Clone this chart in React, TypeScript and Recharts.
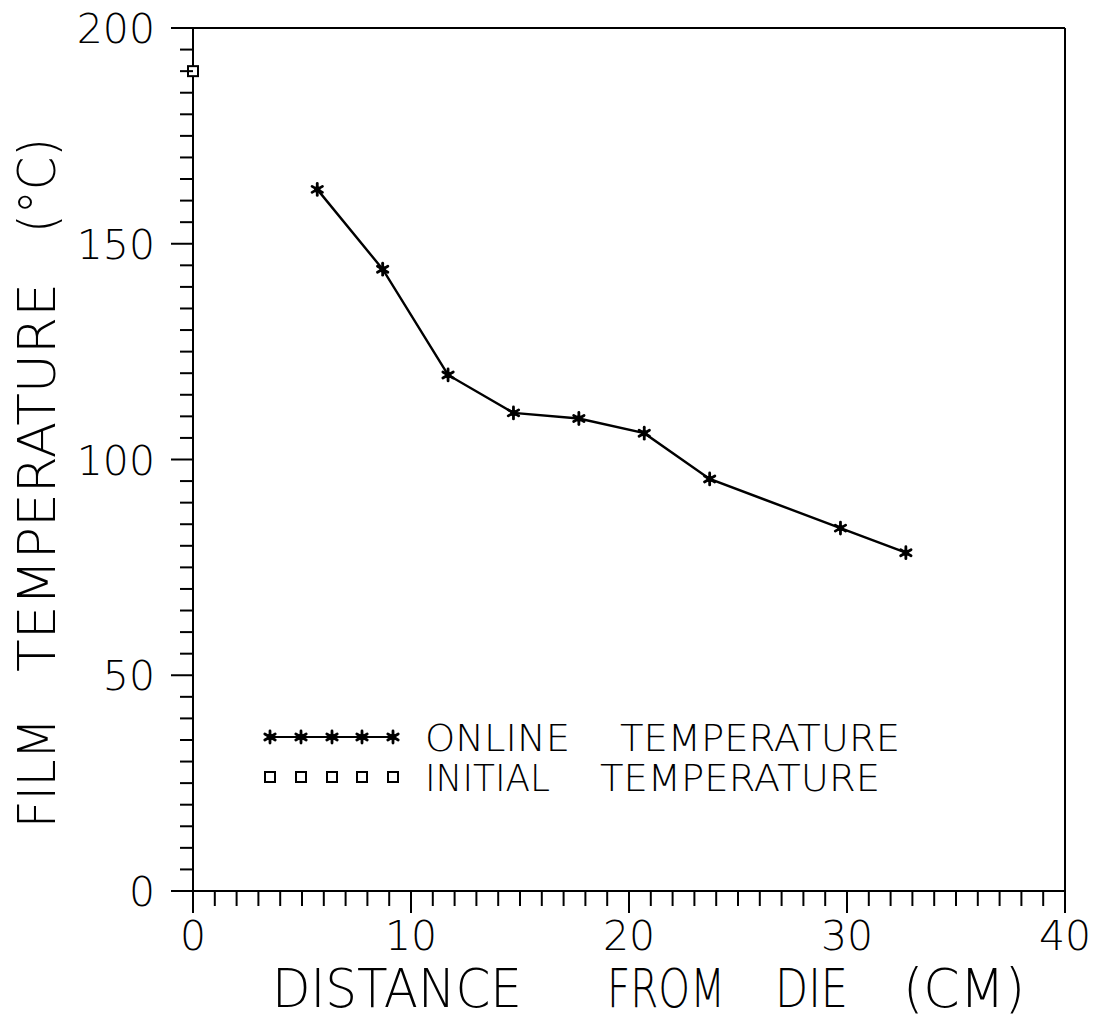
import React from 'react';
import { LineChart, Line, XAxis, YAxis, ReferenceLine, Legend } from 'recharts';

// Measured film temperature along the line, plus the melt temperature at the die exit
const distanceCm = [5.7, 8.7, 11.7, 14.7, 17.7, 20.7, 23.7, 29.7, 32.7];
const onlineTempC = [162.6, 144.1, 119.6, 110.8, 109.5, 106.1, 95.5, 84.1, 78.4];
const initialDistanceCm = [0];
const initialTempC = [190];

// Axis ranges, labelled ticks and minor tick steps
const xDomain: [number, number] = [0, 40];
const yDomain: [number, number] = [0, 200];
const xTickLabels = [0, 10, 20, 30, 40];
const yTickLabels = [0, 50, 100, 150, 200];
const xMinorStep = 1;
const yMinorStep = 5;

const xTicks: number[] = [];
for (let v = xDomain[0]; v <= xDomain[1]; v += xMinorStep) xTicks.push(v);
const yTicks: number[] = [];
for (let v = yDomain[0]; v <= yDomain[1]; v += yMinorStep) yTicks.push(v);

const onlineData = distanceCm.map((x, i) => ({ x, y: onlineTempC[i] }));
const initialData = initialDistanceCm.map((x, i) => ({ x, y: initialTempC[i] }));

const FONT = "'DejaVu Sans', 'Liberation Sans', sans-serif";
const INK = '#000';

const Star = ({ cx, cy, r = 6 }: { cx: number; cy: number; r?: number }) => (
  <g stroke={INK} strokeWidth={2.8} strokeLinecap="round">
    <line x1={cx} y1={cy - r} x2={cx} y2={cy + r} />
    <line x1={cx - r * 0.866} y1={cy - r / 2} x2={cx + r * 0.866} y2={cy + r / 2} />
    <line x1={cx - r * 0.866} y1={cy + r / 2} x2={cx + r * 0.866} y2={cy - r / 2} />
    <circle cx={cx} cy={cy} r={3.2} fill={INK} stroke="none" />
  </g>
);

const Box = ({ cx, cy, s = 10 }: { cx: number; cy: number; s?: number }) => (
  <rect x={cx - s / 2} y={cy - s / 2} width={s} height={s} fill="#fff" stroke={INK} strokeWidth={2} />
);

const XTick = (props: any) => {
  const { x, y, payload } = props;
  const v = payload.value as number;
  const major = xTickLabels.includes(v);
  return (
    <g>
      <line x1={x} x2={x} y1={y} y2={y + (major ? 22 : 15)} stroke={INK} strokeWidth={2} />
      {major && (
        <text x={x} y={y + 59} textAnchor="middle" fontSize={41} fontFamily={FONT} fontWeight={200} fill={INK}>
          {v}
        </text>
      )}
    </g>
  );
};

const YTick = (props: any) => {
  const { x, y, payload } = props;
  const v = payload.value as number;
  const major = yTickLabels.includes(v);
  return (
    <g>
      <line x1={x - (major ? 22 : 13)} x2={x} y1={y} y2={y} stroke={INK} strokeWidth={2} />
      {major && (
        <text x={x - 38} y={y + 15} textAnchor="end" fontSize={41} fontFamily={FONT} fontWeight={200} fill={INK}>
          {v}
        </text>
      )}
    </g>
  );
};

const Word = ({ x, y, len, size, children }: any) => (
  <text
    x={x}
    y={y}
    fontSize={size}
    fontFamily={FONT}
    fontWeight={200}
    fill={INK}
    textLength={len}
    lengthAdjust="spacingAndGlyphs"
  >
    {children}
  </text>
);

const XTitle = () => (
  <g>
    <Word x={272} y={1007} len={250} size={53}>DISTANCE</Word>
    <Word x={607} y={1007} len={118} size={53}>FROM</Word>
    <Word x={775} y={1007} len={73} size={53}>DIE</Word>
    <Word x={903} y={1007} len={122} size={53}>(CM)</Word>
  </g>
);

const RotWord = ({ y, len, children }: any) => (
  <g transform={`translate(55, ${y}) rotate(-90)`}>
    <Word x={0} y={0} len={len} size={52}>{children}</Word>
  </g>
);

const YTitle = () => (
  <g>
    <RotWord y={828} len={110}>FILM</RotWord>
    <RotWord y={672} len={389}>TEMPERATURE</RotWord>
    <RotWord y={233} len={95}>(°C)</RotWord>
  </g>
);

const legendMarkX = [20, 51, 82, 112, 143];

const LegendBox = () => (
  <svg width={700} height={110} style={{ display: 'block', overflow: 'visible' }}>
    <line x1={legendMarkX[0]} x2={legendMarkX[4]} y1={37} y2={37} stroke={INK} strokeWidth={2} />
    {legendMarkX.map((x) => (
      <Star key={`s${x}`} cx={x} cy={37} />
    ))}
    <Word x={175} y={51} len={145} size={38}>ONLINE</Word>
    <Word x={370} y={51} len={280} size={38}>TEMPERATURE</Word>
    {legendMarkX.map((x) => (
      <Box key={`b${x}`} cx={x} cy={77} />
    ))}
    <Word x={175} y={91} len={125} size={38}>INITIAL</Word>
    <Word x={350} y={91} len={280} size={38}>TEMPERATURE</Word>
  </svg>
);

export default function App() {
  return (
    <div style={{ position: 'absolute', left: 0, top: 0, width: 1102, height: 1020, background: '#fff' }}>
      <LineChart width={1102} height={1020} margin={{ top: 28, right: 37, left: 0, bottom: 0 }}>
        <XAxis
          type="number"
          dataKey="x"
          domain={xDomain}
          ticks={xTicks}
          interval={0}
          height={129}
          tickSize={0}
          tickMargin={0}
          tickLine={false}
          tick={<XTick />}
          axisLine={{ stroke: INK, strokeWidth: 2 }}
          label={<XTitle />}
        />
        <YAxis
          type="number"
          dataKey="y"
          domain={yDomain}
          ticks={yTicks}
          interval={0}
          width={193}
          tickSize={0}
          tickMargin={0}
          tickLine={false}
          tick={<YTick />}
          axisLine={{ stroke: INK, strokeWidth: 2 }}
          label={<YTitle />}
        />
        <ReferenceLine y={200} stroke={INK} strokeWidth={2} />
        <ReferenceLine x={40} stroke={INK} strokeWidth={2} />
        <Line
          data={onlineData}
          dataKey="y"
          stroke={INK}
          strokeWidth={2.4}
          isAnimationActive={false}
          dot={(p: any) => <Star key={`d${p.index}`} cx={p.cx} cy={p.cy} />}
          activeDot={false}
        />
        <Line
          data={initialData}
          dataKey="y"
          stroke="none"
          isAnimationActive={false}
          dot={(p: any) => <Box key={`i${p.index}`} cx={p.cx} cy={p.cy} />}
          activeDot={false}
        />
        <Legend
          layout="horizontal"
          verticalAlign="middle"
          align="center"
          wrapperStyle={{ left: 250, top: 700, width: 700, height: 110 }}
          content={() => <LegendBox />}
        />
      </LineChart>
    </div>
  );
}
